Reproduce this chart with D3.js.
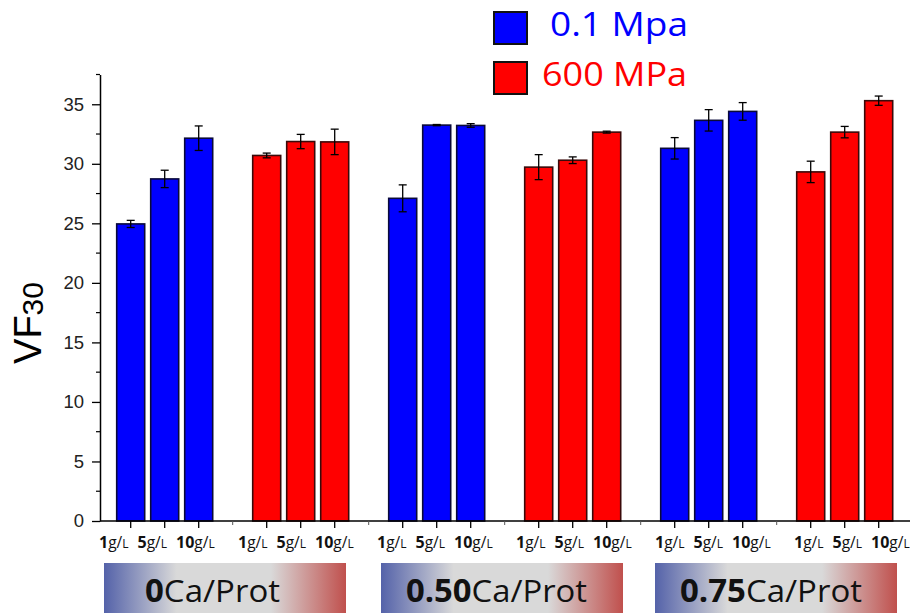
<!DOCTYPE html>
<html>
<head>
<meta charset="utf-8">
<script src="https://cdn.jsdelivr.net/npm/d3@7"></script>
<style>
  html, body { margin: 0; padding: 0; background: #fff; }
  svg { display: block; }
</style>
</head>
<body>
<svg id="chart" width="910" height="615"></svg>
<script>
// ---------- data ----------
const caLevels = ["0", "0.50", "0.75"];
const pressures = ["0.1 Mpa", "600 MPa"];
const concLabels = ["1", "5", "10"];
const blueValues = [[24.95, 28.73, 32.15], [27.1, 33.25, 33.22], [31.3, 33.65, 34.4]];
const blueErrors = [[0.3, 0.73, 1.03], [1.13, 0.05, 0.15], [0.9, 0.9, 0.74]];
const redValues  = [[30.7, 31.87, 31.84], [29.72, 30.3, 32.66], [29.32, 32.66, 35.3]];
const redErrors  = [[0.2, 0.6, 1.07], [1.05, 0.28, 0.08], [0.9, 0.48, 0.39]];
const yTicks = [0, 5, 10, 15, 20, 25, 30, 35];

// ---------- build rows ----------
const colors = ["#0000ff", "#ff0000"];
const rows = [];
caLevels.forEach((ca, c) => {
  [blueValues, redValues].forEach((vals, p) => {
    const errs = p === 0 ? blueErrors : redErrors;
    const g = c * 2 + p;
    concLabels.forEach((conc, i) => {
      rows.push({ ca, pressure: p, group: g, idx: i, conc, pos: g * 4 + i + 1,
                  value: vals[c][i], err: errs[c][i] });
    });
  });
});

const svg = d3.select("#chart");
const x = d3.scaleLinear().domain([0, 24]).range([96.7, 912.7]);
const y = d3.scaleLinear().domain([0, 37.5]).range([521, 74.5]);
const barW = 28;

// ---------- gradient ----------
const defs = svg.append("defs");
const grad = defs.append("linearGradient").attr("id", "caGrad")
  .attr("x1", "0%").attr("x2", "100%").attr("y1", "0%").attr("y2", "0%");
[["0%", "#5462a9"], ["30%", "#d9d9d9"], ["69%", "#d9d9d9"], ["100%", "#c0504d"]]
  .forEach(([o, col]) => grad.append("stop").attr("offset", o).attr("stop-color", col));

// ---------- bars ----------
svg.append("g").selectAll("rect").data(rows).join("rect")
  .attr("x", d => x(d.pos) - barW / 2)
  .attr("y", d => y(d.value))
  .attr("width", barW)
  .attr("height", d => y(0) - y(d.value))
  .attr("fill", d => colors[d.pressure])
  .attr("stroke", d => d.pressure === 0 ? "#0a0a3a" : "#3a0a0a")
  .attr("stroke-width", 1.6);

// ---------- error bars ----------
const eg = svg.append("g").attr("stroke", "#000").attr("stroke-width", 1.3).attr("fill", "none");
rows.forEach(d => {
  const cx = x(d.pos);
  const y1 = y(d.value + d.err), y2 = y(d.value - d.err);
  eg.append("line").attr("x1", cx).attr("x2", cx).attr("y1", y1).attr("y2", y2);
  eg.append("line").attr("x1", cx - 4).attr("x2", cx + 4).attr("y1", y1).attr("y2", y1);
  eg.append("line").attr("x1", cx - 4).attr("x2", cx + 4).attr("y1", y2).attr("y2", y2);
});

// ---------- y axis ----------
const yAxis = d3.axisLeft(y).tickValues(yTicks).tickSize(8).tickPadding(8).tickSizeOuter(0);
const yg = svg.append("g").attr("transform", "translate(100,0)").call(yAxis);
yg.select(".domain").attr("stroke", "#000").attr("stroke-width", 1.5);
yg.selectAll(".tick line").attr("stroke", "#000").attr("stroke-width", 1.3);
yg.selectAll(".tick text").attr("font-family", "Liberation Sans, Arial, sans-serif")
  .attr("font-size", 18.5).attr("fill", "#222");
const minor = d3.range(2.5, 38, 5);
yg.selectAll(".minor").data(minor).join("line").attr("class", "minor")
  .attr("x1", -4).attr("x2", 0).attr("y1", d => y(d)).attr("y2", d => y(d))
  .attr("stroke", "#000").attr("stroke-width", 1.2);

// ---------- x axis ----------
svg.append("line").attr("x1", 100).attr("x2", 910).attr("y1", y(0)).attr("y2", y(0))
  .attr("stroke", "#000").attr("stroke-width", 1.5);
const xg = svg.append("g");
xg.selectAll(".maj").data(rows).join("line").attr("class", "maj")
  .attr("x1", d => x(d.pos)).attr("x2", d => x(d.pos))
  .attr("y1", y(0)).attr("y2", y(0) + 7).attr("stroke", "#000").attr("stroke-width", 1.3);
xg.selectAll(".gap").data([4, 8, 12, 16, 20]).join("line").attr("class", "gap")
  .attr("x1", d => x(d)).attr("x2", d => x(d))
  .attr("y1", y(0)).attr("y2", y(0) + 4).attr("stroke", "#555").attr("stroke-width", 1);

// concentration labels
const lab = svg.append("g").attr("font-family", "Open Sans, sans-serif").attr("fill", "#111");
rows.forEach(d => {
  const t = lab.append("text")
    .attr("x", 99 + 139 * d.group + 38.5 * d.idx)
    .attr("y", 548);
  t.append("tspan").attr("font-weight", "bold").attr("font-size", 16).text(d.conc);
  t.append("tspan").attr("font-size", 15.5).text("g/");
  t.append("tspan").attr("font-size", 12).text("L");
});

// ---------- y label ----------
const yl = svg.append("text")
  .attr("transform", "translate(41,323) rotate(-90)")
  .attr("text-anchor", "middle")
  .attr("font-family", "Liberation Sans, Arial, sans-serif")
  .attr("fill", "#000");
yl.append("tspan").attr("font-size", 38).text("VF");
yl.append("tspan").attr("font-size", 30).attr("dy", 2).text("30");

// ---------- legend ----------
const leg = svg.append("g");
const legendRows = [
  { label: pressures[0], color: colors[0], sqY: 12, textX: 550, textY: 36, len: 138 },
  { label: pressures[1], color: colors[1], sqY: 62, textX: 542, textY: 86, len: 145 }
];
legendRows.forEach(r => {
  leg.append("rect").attr("x", 494).attr("y", r.sqY).attr("width", 33).attr("height", 32)
    .attr("fill", r.color).attr("stroke", "#111").attr("stroke-width", 2);
  leg.append("text").attr("x", r.textX).attr("y", r.textY)
    .attr("font-family", "Open Sans, sans-serif").attr("font-size", 32)
    .attr("fill", r.color)
    .attr("textLength", r.len).attr("lengthAdjust", "spacingAndGlyphs")
    .text(r.label);
});

// ---------- Ca/Prot boxes ----------
const boxes = [
  { ca: caLevels[0], x0: 104, tx: 145, len: 135 },
  { ca: caLevels[1], x0: 381, tx: 406, len: 181 },
  { ca: caLevels[2], x0: 655, tx: 680, len: 182 }
];
boxes.forEach(b => {
  svg.append("rect").attr("x", b.x0).attr("y", 563).attr("width", 242).attr("height", 50)
    .attr("fill", "url(#caGrad)");
  const t = svg.append("text").attr("x", b.tx).attr("y", 602)
    .attr("font-family", "Open Sans, sans-serif").attr("font-size", 31.5).attr("fill", "#111")
    .attr("textLength", b.len).attr("lengthAdjust", "spacingAndGlyphs");
  t.append("tspan").attr("font-weight", "bold").text(b.ca);
  t.append("tspan").text("Ca/Prot");
});
</script>
</body>
</html>
